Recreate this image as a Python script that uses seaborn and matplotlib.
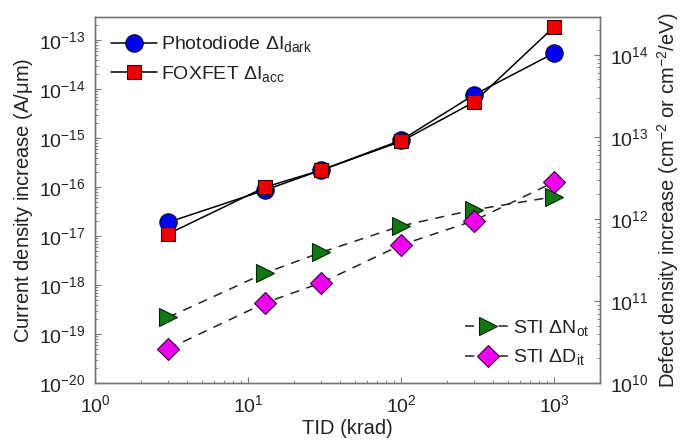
import numpy as np
import pandas as pd
import matplotlib
matplotlib.use("Agg")
import matplotlib.pyplot as plt
import seaborn as sns
from matplotlib.ticker import LogLocator, NullFormatter

# ---- data ----
tid = [3, 13, 30, 100, 300, 1000]
photodiode_idark = [1.9e-17, 8.7e-17, 2.2e-16, 9.0e-16, 7.6e-15, 5.4e-14]
foxfet_iacc = [1.1e-17, 1.0e-16, 2.2e-16, 8.5e-16, 5.4e-15, 1.85e-13]
sti_not = [6.3e10, 2.2e11, 3.9e11, 8.2e11, 1.29e12, 1.86e12]
sti_dit = [2.6e10, 9.5e10, 1.66e11, 4.8e11, 9.5e11, 2.8e12]

left_ticks = [1e-20, 1e-19, 1e-18, 1e-17, 1e-16, 1e-15, 1e-14, 1e-13]
right_ticks = [1e10, 1e11, 1e12, 1e13, 1e14]
x_ticks = [1, 10, 100, 1000]

sns.set_style("ticks")
plt.rcParams['font.family'] = ['Liberation Sans', 'DejaVu Sans']
plt.rcParams['mathtext.fontset'] = 'custom'
plt.rcParams['mathtext.rm'] = 'Liberation Sans'
plt.rcParams['mathtext.it'] = 'Liberation Sans:italic'
plt.rcParams['mathtext.default'] = 'regular'

txt = '#222222'
spc = '#777777'

fig = plt.figure(figsize=(6.81, 4.42), dpi=100)
ax = fig.add_axes([95/681, 1-383/442, (600-95)/681, (383-17)/442])
ax2 = ax.twinx()

df1 = pd.DataFrame({'TID': tid, 'val': photodiode_idark})
df2 = pd.DataFrame({'TID': tid, 'val': foxfet_iacc})
df3 = pd.DataFrame({'TID': tid, 'val': sti_not})
df4 = pd.DataFrame({'TID': tid, 'val': sti_dit})

sns.lineplot(data=df1, x='TID', y='val', ax=ax, color='black', lw=1.1,
             marker='o', markersize=12.5, markerfacecolor='#0000ee',
             markeredgecolor='#000033', markeredgewidth=0.8,
             label=r'Photodiode $\Delta I_{dark}$')
sns.lineplot(data=df2, x='TID', y='val', ax=ax, color='black', lw=1.1,
             marker='s', markersize=9.5, markerfacecolor='#ee0000',
             markeredgecolor='#330000', markeredgewidth=0.8,
             label=r'FOXFET $\Delta I_{acc}$')
sns.lineplot(data=df3, x='TID', y='val', ax=ax2, color='#222222', lw=1.1,
             marker='>', markersize=12.5, markerfacecolor='#117711',
             markeredgecolor='#002200', markeredgewidth=0.8,
             label=r'STI $\Delta N_{ot}$')
sns.lineplot(data=df4, x='TID', y='val', ax=ax2, color='#222222', lw=1.1,
             marker='D', markersize=11, markerfacecolor='#ee00ee',
             markeredgecolor='#330033', markeredgewidth=0.8,
             label=r'STI $\Delta D_{it}$')
for l in ax2.lines:
    l.set_linestyle((0, (6, 5)))

ax.set_xscale('log')
ax.set_yscale('log')
ax2.set_yscale('log')
ax.set_xlim(1, 2000)
ax.set_ylim(1e-20, 10**-12.53)
ax2.set_ylim(1e10, 10**14.46)

ax.set_xticks(x_ticks)
ax.set_yticks(left_ticks)
ax2.set_yticks(right_ticks)
for a in (ax, ax2):
    a.yaxis.set_minor_locator(LogLocator(base=10, subs=np.arange(2, 10), numticks=50))
    a.yaxis.set_minor_formatter(NullFormatter())
ax.xaxis.set_minor_locator(LogLocator(base=10, subs=np.arange(2, 10), numticks=50))
ax.xaxis.set_minor_formatter(NullFormatter())

ax.tick_params(axis='both', which='major', direction='in', length=4, width=0.8,
               labelsize=14, colors=spc, labelcolor=txt, pad=7)
ax.tick_params(axis='x', which='major', pad=8)
ax.tick_params(axis='both', which='minor', direction='in', length=2, width=0.6, colors=spc)
ax2.tick_params(axis='y', which='major', direction='in', length=4, width=0.8,
                labelsize=14, colors=spc, labelcolor=txt, pad=7)
ax2.tick_params(axis='y', which='minor', direction='in', length=2, width=0.6, colors=spc)

for a in (ax, ax2):
    for s in a.spines.values():
        s.set_visible(True)
        s.set_color(spc)
        s.set_linewidth(1.0)

ax.set_xlabel('TID (krad)', fontsize=14.5, color=txt, labelpad=2)
ax.set_ylabel(r'Current density increase (A/$\mu$m)', fontsize=14.5, color=txt, labelpad=3)
ax2.set_ylabel(r'Defect density increase (cm$^{-2}$ or cm$^{-2}$/eV)', fontsize=14.5,
               color=txt, labelpad=5)

leg1 = ax.legend(loc='upper left', frameon=False, fontsize=14, handlelength=2.4,
                 handletextpad=0.2, borderaxespad=0.4, labelspacing=0.5,
                 bbox_to_anchor=(0.0, 0.995))
for t in leg1.get_texts():
    t.set_color(txt)
leg2 = ax2.legend(loc='lower right', frameon=False, fontsize=14, handlelength=2.4,
                  handletextpad=0.1, borderaxespad=0.4, labelspacing=0.5,
                  bbox_to_anchor=(1.01, 0.0))
for t in leg2.get_texts():
    t.set_color(txt)

fig.savefig('out.png', dpi=100)
